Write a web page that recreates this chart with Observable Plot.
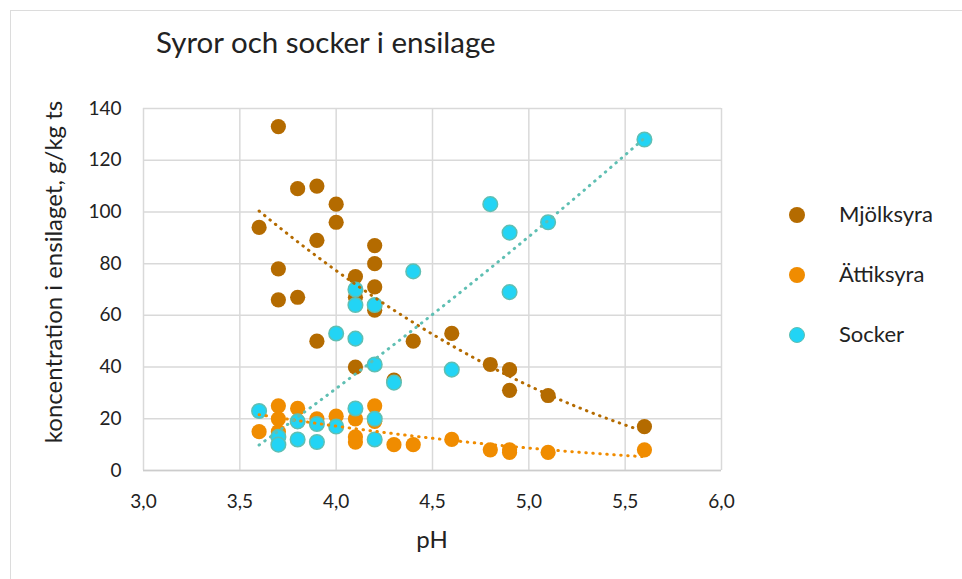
<!DOCTYPE html>
<html><head><meta charset="utf-8">
<script src="https://cdn.jsdelivr.net/npm/d3@7"></script>
<script src="https://cdn.jsdelivr.net/npm/@observablehq/plot@0.6"></script>
<style>
body{margin:0;background:#fff;}
#wrap{position:relative;width:962px;height:579px;overflow:hidden;font-family:Lato,sans-serif;color:#222;background:#fff}
#frame{position:absolute;left:10px;top:10px;width:1000px;height:620px;border:1px solid #dcdcdc;}
#chart{position:absolute;left:0;top:0}
.t{position:absolute;line-height:1;white-space:nowrap}
#title{left:156px;top:27px;font-size:29.5px}
#ytitle{width:400px;text-align:center;font-size:24px;height:24px;transform:rotate(-90deg)}
#xtitle{width:200px;text-align:center;font-size:24px}
.sw{position:absolute;width:16px;height:16px;border-radius:50%;box-sizing:border-box}
.lt{position:absolute;font-size:22px;line-height:1;white-space:nowrap}
</style></head>
<body>
<div id="wrap">
  <div id="frame"></div>
  <div id="chart"></div>
  <div class="t" id="title">Syror och socker i ensilage</div>
  <div class="t" id="ytitle">koncentration i ensilaget, g/kg ts</div>
  <div class="t" id="xtitle">pH</div>
  <div id="legend"></div>
</div>
<script>
// ---- data ----
const seriesNames = ["Mjölksyra", "Ättiksyra", "Socker"];
const phMjolk   = [3.6, 3.7,3.7,3.7, 3.8,3.8, 3.9,3.9,3.9, 4.0,4.0, 4.1,4.1,4.1, 4.2,4.2,4.2,4.2, 4.3, 4.4, 4.6, 4.8, 4.9,4.9, 5.1, 5.6];
const mjolksyra = [94, 133,78,66, 109,67, 110,89,50, 103,96, 75,67,40, 87,80,71,62, 35, 50, 53, 41, 39,31, 29, 17];
const phAttik   = [3.6, 3.7,3.7,3.7, 3.8,3.8, 3.9, 4.0, 4.1,4.1,4.1, 4.2,4.2, 4.3, 4.4, 4.6, 4.8, 4.9,4.9, 5.1, 5.6];
const attiksyra = [15, 25,20,15, 24,19, 20, 21, 20,13,11, 25,19, 10, 10, 12, 8, 8,7, 7, 8];
const phSocker  = [3.6, 3.7,3.7, 3.8,3.8, 3.9,3.9, 4.0,4.0, 4.1,4.1,4.1,4.1, 4.2,4.2,4.2,4.2, 4.3, 4.4, 4.6, 4.8, 4.9,4.9, 5.1, 5.6];
const socker    = [23, 13,10, 19,12, 18,11, 53,17, 70,64,51,24, 64,41,20,12, 34, 77, 39, 103, 92,69, 96, 128];
const xTicks = [3.0, 3.5, 4.0, 4.5, 5.0, 5.5, 6.0];
const yTicks = [0, 20, 40, 60, 80, 100, 120, 140];

const cBrown = "#b46b00", cOrange = "#f08c00", cCyan = "#22d4f5", cCyanStroke = "#5fbfb3";

const toRows = (xs, ys) => xs.map((x, i) => ({ph: x, v: ys[i]}));

// Excel-style 2nd order polynomial trendline (least squares)
function quadFit(xs, ys) {
  let S = [0,0,0,0,0], T = [0,0,0];
  xs.forEach((x, i) => {
    let p = 1;
    for (let k = 0; k < 5; k++) { S[k] += p; if (k < 3) T[k] += p * ys[i]; p *= x; }
  });
  const A = [[S[0],S[1],S[2]],[S[1],S[2],S[3]],[S[2],S[3],S[4]]];
  const det = m => m[0][0]*(m[1][1]*m[2][2]-m[1][2]*m[2][1]) - m[0][1]*(m[1][0]*m[2][2]-m[1][2]*m[2][0]) + m[0][2]*(m[1][0]*m[2][1]-m[1][1]*m[2][0]);
  const D = det(A);
  const coef = [0,1,2].map(c => det(A.map((row, r) => row.map((v, j) => j === c ? T[r] : v))) / D);
  const lo = d3.min(xs), hi = d3.max(xs);
  return d3.range(0, 101).map(i => {
    const x = lo + (hi - lo) * i / 100;
    return {ph: x, v: coef[0] + coef[1]*x + coef[2]*x*x};
  });
}

const dotted = {strokeWidth: 3, strokeDasharray: "0.5 6.5", strokeLinecap: "round"};

const chart = Plot.plot({
  width: 962, height: 579,
  marginLeft: 143, marginRight: 241, marginTop: 108, marginBottom: 109,
  style: {background: "transparent", fontFamily: "Lato, sans-serif", fontSize: "19px", color: "#222", overflow: "visible"},
  x: {domain: [3, 6]},
  y: {domain: [0, 140]},
  marks: [
    Plot.gridX(xTicks, {stroke: "#d9d9d9", strokeOpacity: 1, strokeWidth: 1.5}),
    Plot.gridY(yTicks, {stroke: "#d9d9d9", strokeOpacity: 1, strokeWidth: 1.5}),
    Plot.ruleY([0], {stroke: "#cccccc", strokeWidth: 1.5}),
    Plot.axisX(xTicks, {tickSize: 0, tickPadding: 24, tickFormat: d => d.toFixed(1).replace(".", ","), label: null, fontSize: 19}),
    Plot.axisY(yTicks, {tickSize: 0, tickPadding: 22, label: null, fontSize: 19}),
    Plot.dot(toRows(phMjolk, mjolksyra), {x: "ph", y: "v", r: 7.6, fill: cBrown}),
    Plot.dot(toRows(phAttik, attiksyra), {x: "ph", y: "v", r: 7.6, fill: cOrange}),
    Plot.dot(toRows(phSocker, socker), {x: "ph", y: "v", r: 7.3, fill: cCyan, stroke: cCyanStroke, strokeWidth: 1.5}),
    Plot.line(quadFit(phMjolk, mjolksyra), {x: "ph", y: "v", stroke: cBrown, ...dotted}),
    Plot.line(quadFit(phAttik, attiksyra), {x: "ph", y: "v", stroke: cOrange, ...dotted}),
    Plot.line(quadFit(phSocker, socker), {x: "ph", y: "v", stroke: cCyanStroke, ...dotted})
  ]
});
document.getElementById("chart").appendChild(chart);

// axis titles placement
const yt = document.getElementById("ytitle");
const fsY = 24, cx = 62 - 0.387 * fsY, cy = 272;
yt.style.left = (cx - 200) + "px"; yt.style.top = (cy - fsY / 2) + "px";
const xt = document.getElementById("xtitle");
xt.style.left = (432 - 100) + "px"; xt.style.top = (548 - 0.887 * 24) + "px";

// legend
const legend = document.getElementById("legend");
const colors = [[cBrown, cBrown], [cOrange, cOrange], [cCyan, cCyanStroke]];
seriesNames.forEach((name, i) => {
  const yc = 215 + i * 60;
  const sw = document.createElement("div");
  sw.className = "sw";
  sw.style.left = (797 - 8) + "px"; sw.style.top = (yc - 8) + "px";
  sw.style.background = colors[i][0];
  if (i === 2) sw.style.border = "1.5px solid " + colors[i][1];
  legend.appendChild(sw);
  const lt = document.createElement("div");
  lt.className = "lt"; lt.textContent = name;
  lt.style.left = "839px"; lt.style.top = (yc + 7.5 - 0.887 * 22) + "px";
  legend.appendChild(lt);
});
</script>
</body></html>
